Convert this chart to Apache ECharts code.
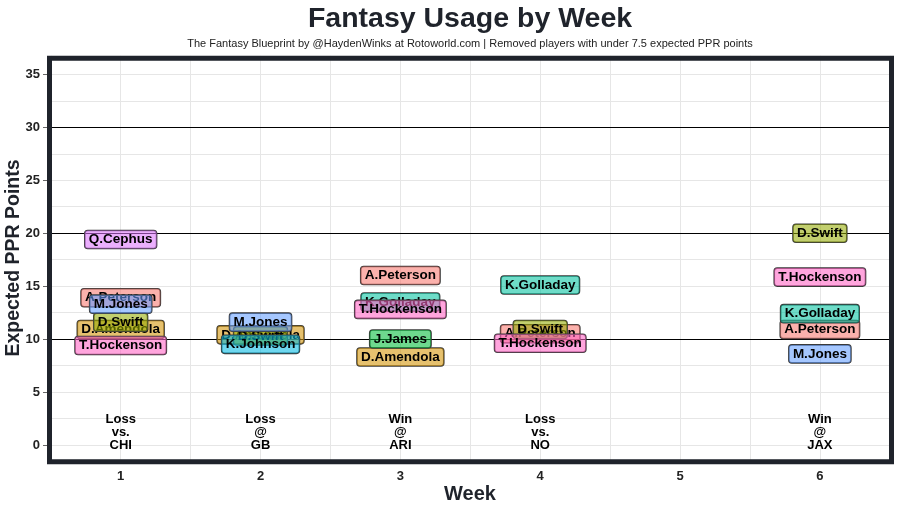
<!DOCTYPE html>
<html>
<head>
<meta charset="utf-8">
<script src="https://cdn.jsdelivr.net/npm/echarts@6/dist/echarts.min.js"></script>
<style>html,body{margin:0;padding:0;background:#fff;}#c{width:900px;height:510px;}</style>
</head>
<body>
<div id="c"></div>
<script>
// ---- data ----
const weeks = [1, 2, 3, 4, 5, 6];
const players = ['A.Peterson','D.Amendola','D.Swift','J.James','K.Golladay','K.Johnson','M.Jones','Q.Cephus','T.Hockenson'];
const playerColors = ['#F8766D','#D39200','#93AA00','#00BA38','#00C19F','#00B9E3','#619CFF','#DB72FB','#FF61C3'];
const aPeterson  = [13.9, null, 16.0, 10.5, null, 10.9];
const dAmendola  = [10.9, 10.4, 8.3, null, null, null];
const dSwift     = [11.6, 10.3, null, 10.9, null, 20.0];
const jJames     = [null, null, 10.0, null, null, null];
const kGolladay  = [null, null, 13.5, 15.1, null, 12.4];
const kJohnson   = [null, 9.5, null, null, null, null];
const mJones     = [13.3, 11.6, null, null, null, 8.6];
const qCephus    = [19.4, null, null, null, null, null];
const tHockenson = [9.4, null, 12.8, 9.6, null, 15.85];
const playerValues = [aPeterson, dAmendola, dSwift, jJames, kGolladay, kJohnson, mJones, qCephus, tHockenson];

const resultWeeks = [1, 2, 3, 4, 6];
const resultTexts = ['Loss\nvs.\nCHI', 'Loss\n@\nGB', 'Win\n@\nARI', 'Loss\nvs.\nNO', 'Win\n@\nJAX'];
const resultY = 1.2;

const yTicks = [0, 5, 10, 15, 20, 25, 30, 35];
const xTicks = [1, 2, 3, 4, 5, 6];
const hGrid = [0, 2.5, 5, 7.5, 10, 12.5, 15, 17.5, 20, 22.5, 25, 27.5, 30, 32.5, 35];
const vGrid = [0.5, 1, 1.5, 2, 2.5, 3, 3.5, 4, 4.5, 5, 5.5, 6, 6.5];
const refLines = [10, 20, 30];

// ---- chart ----
const FONT = "'Liberation Sans', Arial, Helvetica, sans-serif";
function rgba(hex, a) {
  const n = parseInt(hex.slice(1), 16);
  return `rgba(${(n >> 16) & 255},${(n >> 8) & 255},${n & 255},${a})`;
}

const series = [];
series.push({
  type: 'scatter', data: [], silent: true, z: 1,
  markLine: {
    silent: true, symbol: ['none', 'none'], z: 1, animation: false,
    label: { show: false },
    data: hGrid.map(v => ({ yAxis: v, lineStyle: { color: '#e6e6e6', width: 1, type: 'solid' } }))
      .concat(vGrid.map(v => ({ xAxis: v, lineStyle: { color: '#e6e6e6', width: 1, type: 'solid' } })))
  }
});
series.push({
  type: 'scatter', data: [], silent: true, z: 2,
  markLine: {
    silent: true, symbol: ['none', 'none'], z: 2, animation: false,
    label: { show: false },
    data: refLines.map(v => ({ yAxis: v, lineStyle: { color: '#000', width: 1.2, type: 'solid' } }))
  }
});
series.push({
  type: 'scatter', z: 3, symbolSize: 0, silent: true,
  itemStyle: { opacity: 1 },
  data: resultWeeks.map((w, i) => ({ value: [w, resultY], txt: resultTexts[i] })),
  label: {
    show: true, position: 'inside', opacity: 1,
    formatter: p => p.data.txt,
    color: '#000', fontWeight: 'bold', fontSize: 13, lineHeight: 13, fontFamily: FONT
  }
});
players.forEach((name, i) => {
  const data = [];
  playerValues[i].forEach((v, k) => { if (v !== null) data.push([weeks[k], v]); });
  series.push({
    name, type: 'scatter', z: 10 + i, symbolSize: 0, data,
    itemStyle: { opacity: 1 },
    label: {
      show: true, position: 'inside', opacity: 1,
      formatter: p => p.seriesName,
      backgroundColor: rgba(playerColors[i], 0.57),
      borderColor: '#3a3a3a', borderWidth: 0.8, borderRadius: 3,
      padding: [3, 4, 2, 4],
      color: '#000', fontWeight: 'bold', fontSize: 13.5, lineHeight: 13, fontFamily: FONT
    }
  });
});

const chart = echarts.init(document.getElementById('c'), null, { renderer: 'canvas' });
chart.setOption({
  animation: false,
  backgroundColor: '#fff',
  grid: { left: 47, top: 55.8, right: 6, bottom: 46.5, containLabel: false },
  xAxis: {
    type: 'value', min: 0.473, max: 6.53,
    axisLine: { show: false },
    axisTick: { show: true, customValues: xTicks, length: 4, lineStyle: { color: '#666' } },
    axisLabel: {
      customValues: xTicks, margin: 6,
      formatter: v => Number.isInteger(v) ? String(v) : '',
      color: '#222', fontWeight: 'bold', fontSize: 13, fontFamily: FONT
    },
    splitLine: { show: false }
  },
  yAxis: {
    type: 'value', min: -1.75, max: 36.75,
    axisLine: { show: false },
    axisTick: { show: true, customValues: yTicks, length: 4, lineStyle: { color: '#666' } },
    axisLabel: {
      customValues: yTicks, margin: 7,
      formatter: v => (Math.abs(v % 5) < 1e-9 && v >= 0) ? String(v) : '',
      color: '#222', fontWeight: 'bold', fontSize: 13, fontFamily: FONT
    },
    splitLine: { show: false }
  },
  graphic: [
    { type: 'rect', z: 100, silent: true,
      shape: { x: 49.5, y: 58.3, width: 842, height: 403.5 },
      style: { fill: 'none', stroke: '#1f232b', lineWidth: 5 } },
    { type: 'text', z: 100, style: { text: 'Fantasy Usage by Week', x: 470, y: 19.5, textAlign: 'center', textVerticalAlign: 'middle',
      font: "bold 28.5px " + FONT, fill: '#1f232b' } },
    { type: 'text', z: 100, style: { text: 'The Fantasy Blueprint by @HaydenWinks at Rotoworld.com | Removed players with under 7.5 expected PPR points',
      x: 470, y: 44, textAlign: 'center', textVerticalAlign: 'middle', font: "11px " + FONT, fill: '#222' } },
    { type: 'text', z: 100, style: { text: 'Week', x: 470, y: 494, textAlign: 'center', textVerticalAlign: 'middle',
      font: "bold 20px " + FONT, fill: '#1f232b' } },
    { type: 'text', z: 100, rotation: Math.PI / 2, x: 14, y: 258,
      style: { text: 'Expected PPR Points', x: 0, y: 0, textAlign: 'center', textVerticalAlign: 'middle',
      font: "bold 19.5px " + FONT, fill: '#1f232b' } }
  ],
  series
});
</script>
</body>
</html>
